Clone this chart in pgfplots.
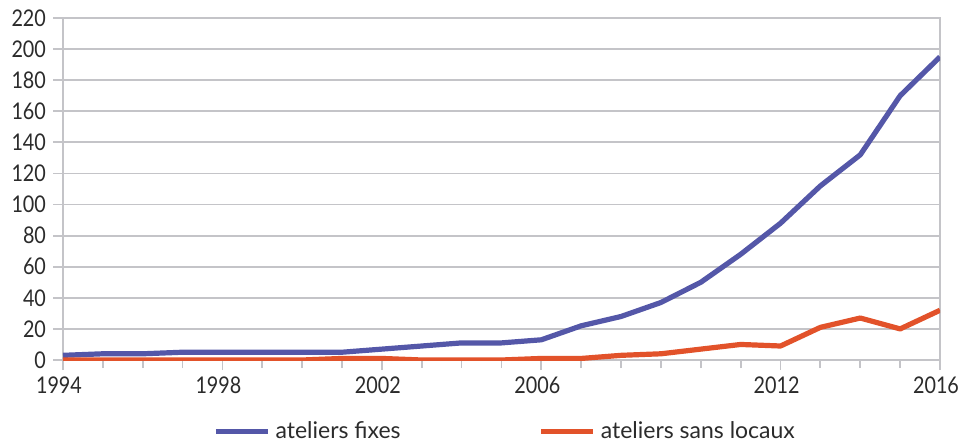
\documentclass[border=0pt]{standalone}
\usepackage{pgfplots}
\pgfplotsset{compat=1.18}
\usepackage{fontspec}
\setmainfont{Lato}
\newfontfamily\tickfont[FakeStretch=0.86]{Lato}
\definecolor{cblue}{HTML}{5457A8}
\definecolor{corange}{HTML}{E2522A}
\definecolor{cgrid}{HTML}{C4C4C8}
\definecolor{ctext}{HTML}{2B2B2B}
\begin{document}
\begin{tikzpicture}
\begin{axis}[
  scale only axis,
  width=438.5pt, height=171pt,
  xmin=1994, xmax=2016, ymin=0, ymax=220,
  ytick={0,20,...,220},
  xtick={1994,1998,2002,2006,2012,2016},
  minor xtick={1994,...,2016},
  /pgf/number format/assume math mode=true,
  xticklabel style={/pgf/number format/1000 sep={}, xshift=-2pt},
  tick label style={font=\tickfont\fontsize{11.5}{13}\selectfont, text=ctext},
  ymajorgrids,
  grid style={cgrid, line width=0.9pt},
  axis line style={cgrid, line width=0.9pt},
  tick style={cgrid, line width=0.9pt},
  xtick align=outside, ytick align=outside,
  major tick length=5pt, minor tick length=4pt,
  xtick pos=bottom, ytick pos=left,
  legend columns=2,
  legend style={draw=none, fill=none, inner sep=0pt, anchor=west,
    at={(rel axis cs:0.171,-0.21)},
    font=\fontsize{11.5}{13}\selectfont, text=ctext,
    /tikz/every even column/.append style={column sep=66.5pt},
    nodes={inner xsep=2.5pt, inner ysep=0pt}},
  legend image code/.code={\draw[#1, line width=2.6pt] (0pt,0pt) -- (26pt,0pt);},
  every axis plot/.append style={line width=2.6pt, line join=round},
]
\coordinate (ll) at (rel axis cs:0,0);
\coordinate (ur) at (rel axis cs:1,1);
\addplot[cblue] coordinates {
 (1994,3) (1995,4) (1996,4) (1997,5) (1998,5) (1999,5) (2000,5) (2001,5)
 (2002,7) (2003,9) (2004,11) (2005,11) (2006,13) (2007,22) (2008,28)
 (2009,37) (2010,50) (2011,68) (2012,88) (2013,112) (2014,132) (2015,170) (2016,195)};
\addlegendentry{ateliers fixes}
\addplot[corange] coordinates {
 (1994,0) (1995,0) (1996,0) (1997,0) (1998,0) (1999,0) (2000,0) (2001,1)
 (2002,1) (2003,0) (2004,0) (2005,0) (2006,1) (2007,1) (2008,3)
 (2009,4) (2010,7) (2011,10) (2012,9) (2013,21) (2014,27) (2015,20) (2016,32)};
\addlegendentry{ateliers sans locaux}
\end{axis}
\pgfresetboundingbox
\path[use as bounding box] ([shift={(-31.5pt,-42pt)}]ll) rectangle ([shift={(11pt,9pt)}]ur);
\end{tikzpicture}
\end{document}
